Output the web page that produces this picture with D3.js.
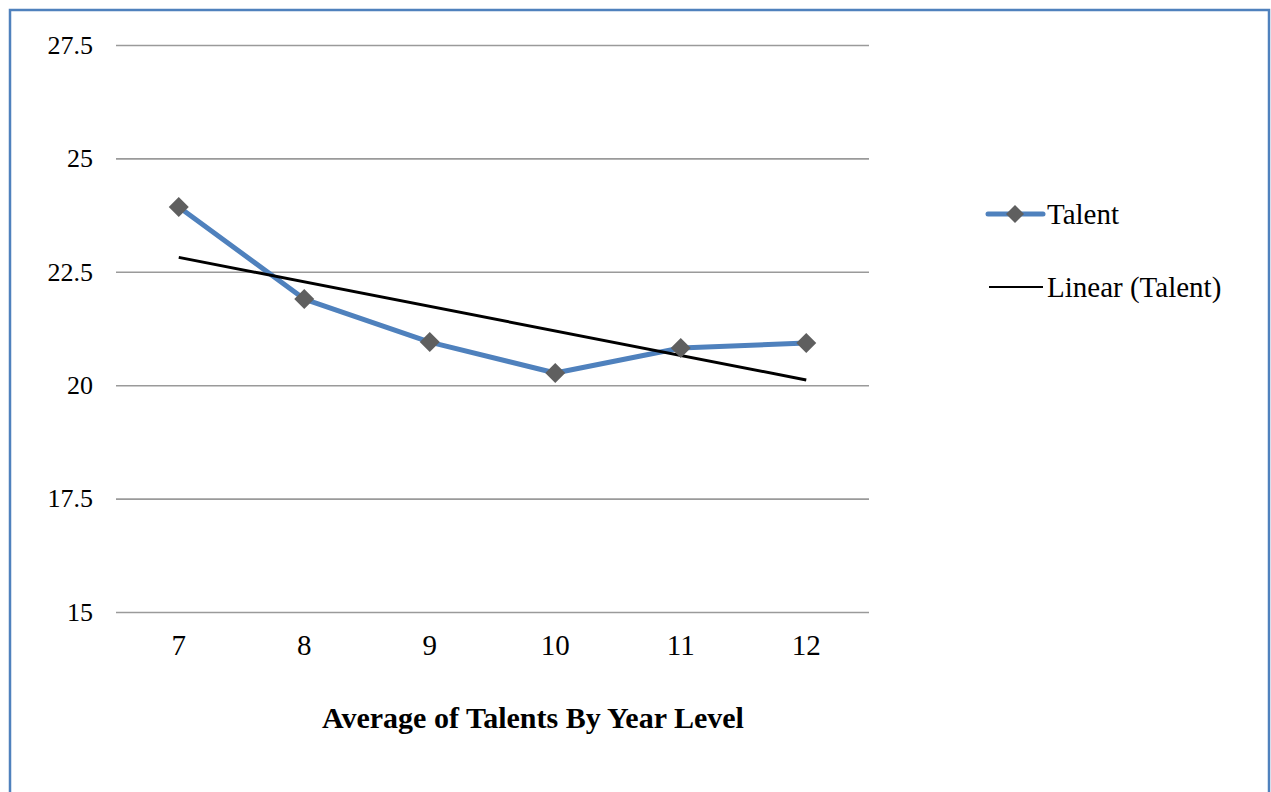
<!DOCTYPE html>
<html>
<head>
<meta charset="utf-8">
<script src="https://cdn.jsdelivr.net/npm/d3@7"></script>
<style>
  html, body { margin: 0; padding: 0; background: #fff; }
  svg { display: block; }
  text { font-family: "Liberation Serif", "Times New Roman", serif; fill: #000; }
</style>
</head>
<body>
<svg id="chart" width="1271" height="792"></svg>
<script>
// Year levels and the average talent score for each
const yearLevels = ["7", "8", "9", "10", "11", "12"];
const talentValues = [23.93, 21.90, 20.95, 20.27, 20.82, 20.93];
const yTicks = [15, 17.5, 20, 22.5, 25, 27.5];
const seriesName = "Talent";
const trendName = "Linear (Talent)";
const chartTitle = "Average of Talents By Year Level";

const svg = d3.select("#chart");
const W = 1271, H = 792;

// outer frame
svg.append("rect")
  .attr("x", 10).attr("y", 10)
  .attr("width", 1259).attr("height", H)
  .attr("fill", "none")
  .attr("stroke", "#4f81bd")
  .attr("stroke-width", 2.5);

const plot = { left: 116, right: 869, top: 45, bottom: 612 };

const x = d3.scaleBand()
  .domain(yearLevels)
  .range([plot.left, plot.right])
  .padding(0);
const cx = d => x(d) + x.bandwidth() / 2;

const y = d3.scaleLinear()
  .domain([15, 27.5])
  .range([plot.bottom, plot.top]);

// horizontal gridlines + y labels
const yAxis = d3.axisLeft(y)
  .tickValues(yTicks)
  .tickFormat(d => String(d))
  .tickSize(-(plot.right - plot.left))
  .tickPadding(23);

const gy = svg.append("g")
  .attr("transform", `translate(${plot.left},0)`)
  .call(yAxis);
gy.select(".domain").remove();
gy.selectAll(".tick line")
  .attr("stroke", "#9a9a9a")
  .attr("stroke-width", 1.6);
gy.selectAll(".tick text")
  .attr("font-size", 26)
  .attr("font-family", "Liberation Serif, serif")
  .attr("fill", "#000");

// x labels
const xAxis = d3.axisBottom(x).tickSize(0).tickPadding(22);
const gx = svg.append("g")
  .attr("transform", `translate(0,${plot.bottom})`)
  .call(xAxis);
gx.select(".domain").remove();
gx.selectAll(".tick text")
  .attr("font-size", 29)
  .attr("font-family", "Liberation Serif, serif")
  .attr("fill", "#000");

// least-squares trend over the year levels
const xs = yearLevels.map(Number);
const n = xs.length;
const mx = d3.mean(xs), my = d3.mean(talentValues);
let sxy = 0, sxx = 0;
xs.forEach((v, i) => { sxy += (v - mx) * (talentValues[i] - my); sxx += (v - mx) * (v - mx); });
const slope = sxy / sxx;
const intercept = my - slope * mx;
const trendPts = [0, n - 1].map(i => [cx(yearLevels[i]), y(intercept + slope * xs[i])]);

// data line
const line = d3.line().x(d => cx(d.k)).y(d => y(d.v));
const pts = yearLevels.map((k, i) => ({ k, v: talentValues[i] }));

svg.append("path")
  .datum(pts)
  .attr("d", line)
  .attr("fill", "none")
  .attr("stroke", "#4f81bd")
  .attr("stroke-width", 5)
  .attr("stroke-linejoin", "round");

// trend line
svg.append("line")
  .attr("x1", trendPts[0][0]).attr("y1", trendPts[0][1])
  .attr("x2", trendPts[1][0]).attr("y2", trendPts[1][1])
  .attr("stroke", "#000")
  .attr("stroke-width", 3);

// diamond markers
const diamond = (px, py, r) => `M${px},${py - r}L${px + r},${py}L${px},${py + r}L${px - r},${py}Z`;
svg.append("g").selectAll("path")
  .data(pts)
  .join("path")
  .attr("d", d => diamond(cx(d.k), y(d.v), 10))
  .attr("fill", "#5f5f5f");

// legend
const lg = svg.append("g");
lg.append("line")
  .attr("x1", 988).attr("x2", 1043).attr("y1", 214).attr("y2", 214)
  .attr("stroke", "#4f81bd").attr("stroke-width", 5).attr("stroke-linecap", "round");
lg.append("path").attr("d", diamond(1015, 214, 9)).attr("fill", "#5f5f5f");
lg.append("text").attr("x", 1047).attr("y", 224).attr("font-size", 29).text(seriesName);

lg.append("line")
  .attr("x1", 989).attr("x2", 1043).attr("y1", 287).attr("y2", 287)
  .attr("stroke", "#000").attr("stroke-width", 2);
lg.append("text").attr("x", 1047).attr("y", 297).attr("font-size", 29).text(trendName);

// title
svg.append("text")
  .attr("x", 533).attr("y", 728)
  .attr("text-anchor", "middle")
  .attr("font-size", 30)
  .attr("font-weight", "bold")
  .text(chartTitle);
</script>
</body>
</html>
